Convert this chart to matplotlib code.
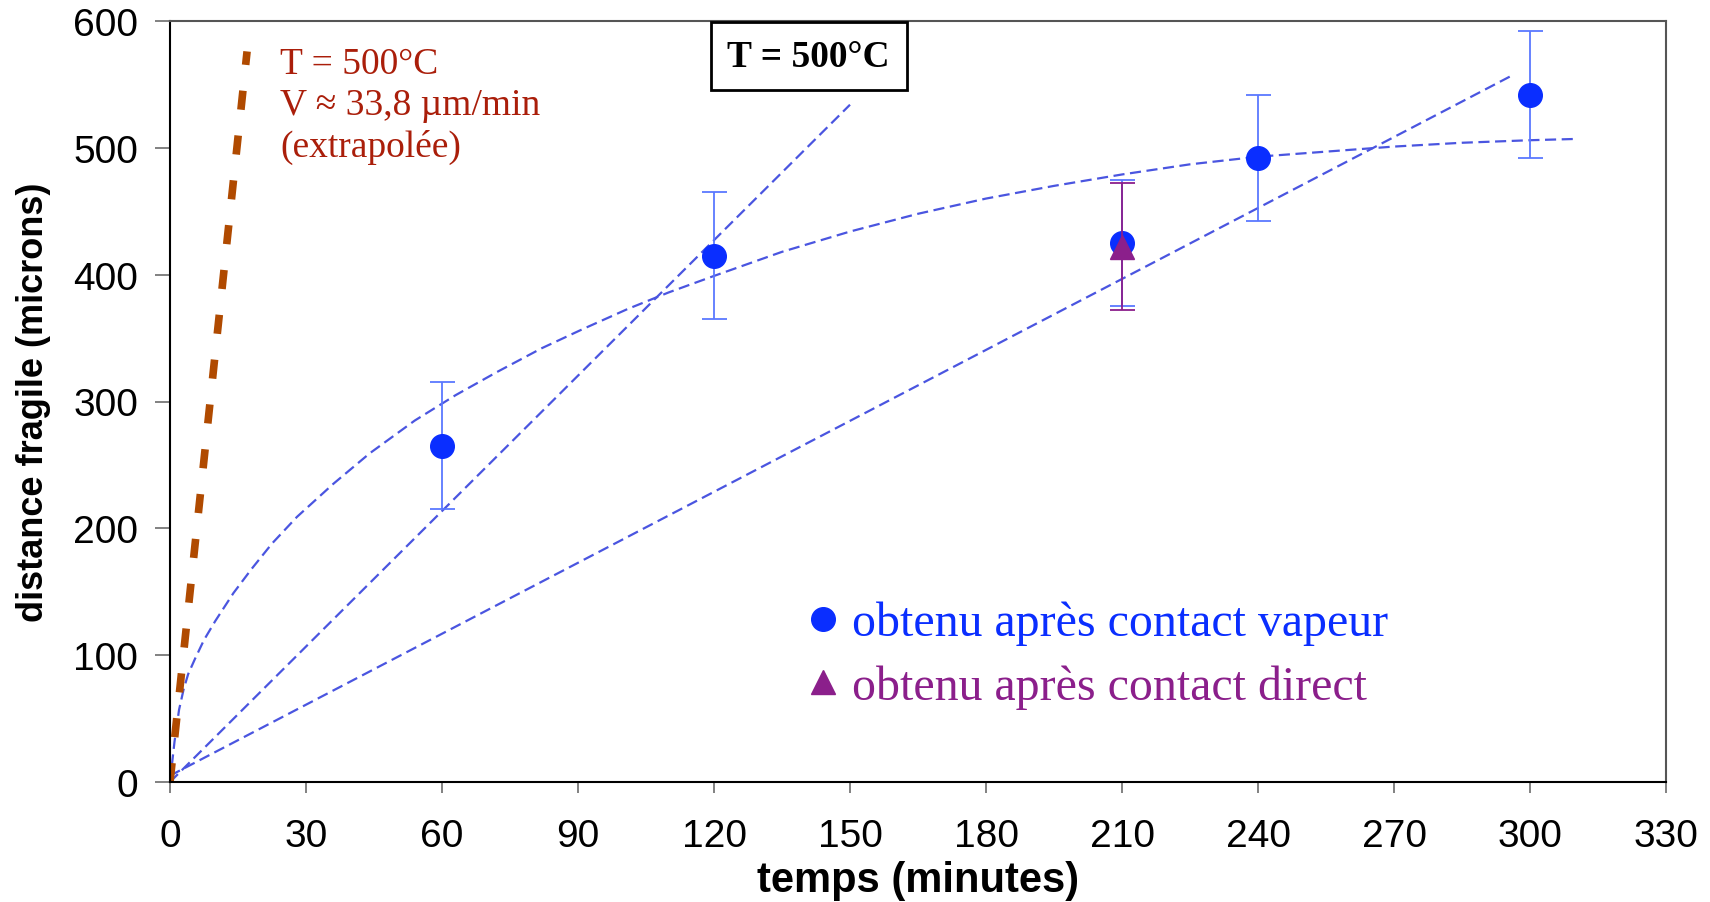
import matplotlib
matplotlib.use("Agg")
import matplotlib.pyplot as plt
from matplotlib.lines import Line2D
from matplotlib import font_manager

# measured points (minutes, microns)
t_vapeur = [60, 120, 210, 240, 300]
d_vapeur = [265, 415, 425, 492, 542]
err_vapeur = [50, 50, 50, 50, 50]

t_direct = [210]
d_direct = [422]
err_direct = [50]

# trend curves
t_curve = [0, 1, 2, 3, 4, 5.5, 7.5, 10, 14, 18, 22.5, 28, 36, 44, 54, 63, 72, 82, 91,
           101, 110, 120, 135, 150, 165, 180, 195, 210, 225, 240, 255, 270, 285, 300, 310]
d_curve = [0, 32, 57, 73, 85, 97, 112, 127, 149, 168, 188, 209, 235, 259, 285, 305, 323,
           342, 357, 373, 386, 399, 418, 434, 448, 460, 470, 479, 487, 493, 497, 501, 504,
           506, 507]
t_steep = [0, 150]
d_steep = [0, 534]
t_slow = [0, 296]
d_slow = [5, 557]

# extrapolated rate line, V ~ 33,8 um/min
t_extra = [0, 17]
d_extra = [0, 576]

xticks = list(range(0, 331, 30))
yticks = list(range(0, 601, 100))

names = {f.name for f in font_manager.fontManager.ttflist}
narrow = "Liberation Sans Narrow" if "Liberation Sans Narrow" in names else "Liberation Sans"

blue_line = "#4a55e0"
blue_pt = "#0a2eff"
blue_err = "#5a78ff"
purple = "#8b1f8b"
brown = "#b04a00"
darkred = "#aa1e0a"

fig = plt.figure(figsize=(17.1, 9.03), dpi=100)
ax = fig.add_axes([170 / 1710, 1 - 783 / 903, 1496 / 1710, 761 / 903])

ax.plot(t_curve, d_curve, color=blue_line, lw=1.6, dashes=(5, 2.5), zorder=2)
ax.plot(t_steep, d_steep, color=blue_line, lw=1.6, dashes=(5, 2.5), zorder=2)
ax.plot(t_slow, d_slow, color=blue_line, lw=1.6, dashes=(5, 2.5), zorder=2)
ax.plot(t_extra, d_extra, color=brown, lw=5.5, dashes=(2.5, 3.4), zorder=2,
        dash_capstyle="butt")

ax.errorbar(t_vapeur, d_vapeur, yerr=err_vapeur, fmt="o", color=blue_pt,
            ms=17, ecolor=blue_err, elinewidth=1.3, capsize=9, capthick=1.3, zorder=4)
ax.errorbar(t_direct, d_direct, yerr=err_direct, fmt="^", color=purple,
            ms=17, ecolor=purple, elinewidth=1.3, capsize=9, capthick=1.3, zorder=5)

ax.set_xlim(0, 330)
ax.set_ylim(0, 600)
ax.set_xticks(xticks)
ax.set_yticks(yticks)
for lab in ax.get_xticklabels() + ax.get_yticklabels():
    lab.set_fontfamily("Liberation Sans")
    lab.set_fontsize(28)
ax.tick_params(axis="x", direction="out", length=8, width=1.3, color="#777777", pad=18)
ax.tick_params(axis="y", direction="out", length=11, width=1.3, color="#777777", pad=12)
for sp in ax.spines.values():
    sp.set_linewidth(1.5)
ax.spines["top"].set_color("#555555")
ax.spines["right"].set_color("#555555")

ax.set_xlabel("temps (minutes)", family="Liberation Sans", weight="bold",
              fontsize=30, labelpad=4)
ax.set_ylabel("distance fragile (microns)", family=narrow, weight="bold",
              fontsize=26, labelpad=16)

ax.text(0.0735, 0.967, "T = 500°C\nV ≈ 33,8 µm/min\n(extrapolée)",
        transform=ax.transAxes, family="Liberation Serif", fontsize=27,
        color=darkred, va="top", ha="left", linespacing=1.25)

ax.text(0.427, 0.954, "T = 500°C", transform=ax.transAxes, family="Liberation Serif",
        weight="bold", fontsize=27, ha="center", va="center",
        bbox=dict(boxstyle="square,pad=0.45", fc="white", ec="black", lw=2))

handles = [Line2D([], [], ls="none", marker="o", color=blue_pt, ms=17),
           Line2D([], [], ls="none", marker="^", color=purple, ms=17)]
leg = ax.legend(handles, ["obtenu après contact vapeur", "obtenu après contact direct"],
                loc="upper left", bbox_to_anchor=(0.424, 0.238), frameon=False,
                prop=dict(family="Liberation Serif", size=34.5), handlelength=0.8,
                handletextpad=0.2, labelspacing=0.4, borderpad=0, borderaxespad=0)
for txt, col in zip(leg.get_texts(), [blue_pt, purple]):
    txt.set_color(col)

fig.savefig("out.png", dpi=100)
